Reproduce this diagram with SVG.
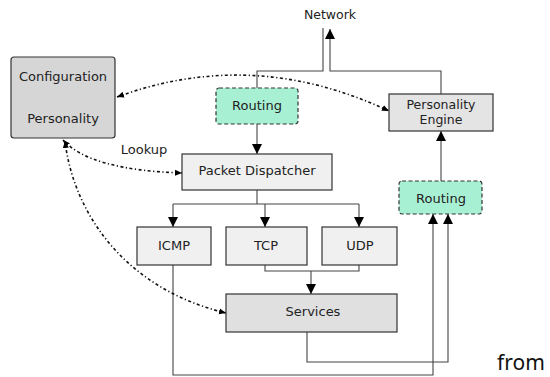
<svg xmlns="http://www.w3.org/2000/svg" width="550" height="377" viewBox="0 0 550 377">
<defs>
<style>
text{font-family:"DejaVu Sans",sans-serif;font-size:13px;fill:#222;text-anchor:middle}
.box{stroke:#333;stroke-width:1.2}
.route{fill:#a8f0d4;stroke:#333;stroke-width:1.2;stroke-dasharray:4 2.5}
.wire{fill:none;stroke:#444;stroke-width:1.1}
.dot{fill:none;stroke:#111;stroke-width:1.6;stroke-dasharray:3 2.5 1.2 2.5}
</style>
<marker id="ah" markerUnits="userSpaceOnUse" markerWidth="10" markerHeight="12" viewBox="0 0 10 12" refX="10" refY="6" orient="auto">
<path d="M0,1 L10,6 L0,11 Z" fill="#000"/>
</marker>
<marker id="dh" markerUnits="userSpaceOnUse" markerWidth="7" markerHeight="7" viewBox="0 0 7 7" refX="7" refY="3.5" orient="auto-start-reverse">
<path d="M0,0.5 L7,3.5 L0,6.5 Z" fill="#000"/>
</marker>
</defs>
<rect width="550" height="377" fill="#fff"/>

<g id="connectors">
<path class="wire" d="M441,94 V71 H330 V29" marker-end="url(#ah)"/>
<path class="wire" d="M323,28 V71 H257 V88"/>
<path class="wire" d="M257,124 V154" marker-end="url(#ah)"/>
<path class="wire" d="M257,190 V204 M173,204 H359"/>
<path class="wire" d="M173,204 V227" marker-end="url(#ah)"/>
<path class="wire" d="M265,204 V227" marker-end="url(#ah)"/>
<path class="wire" d="M359,204 V227" marker-end="url(#ah)"/>
<path class="wire" d="M265,265 V271 H359 V265"/>
<path class="wire" d="M311,271 V294" marker-end="url(#ah)"/>
<path class="wire" d="M307,332 V362 H448 V214" marker-end="url(#ah)"/>
<path class="wire" d="M173,265 V375 H433 V214" marker-end="url(#ah)"/>
<path class="wire" d="M441,181 V131" marker-end="url(#ah)"/>
<path class="dot" d="M117,97 Q253,47 389,111" marker-start="url(#dh)" marker-end="url(#dh)"/>
<path class="dot" d="M63,140 Q90,170 182,173" marker-start="url(#dh)" marker-end="url(#dh)"/>
<path class="dot" d="M65,141 C73,210 122,288 226,313" marker-start="url(#dh)" marker-end="url(#dh)"/>
<text x="144" y="154">Lookup</text>
<text x="330" y="19" style="font-size:12.5px">Network</text>
</g>

<g id="config">
<rect class="box" x="11" y="57" width="104" height="81" rx="3" fill="#d6d6d6"/>
<text x="63" y="81">Configuration</text>
<text x="63" y="123">Personality</text>
</g>
<g id="routing-in">
<rect class="route" x="216" y="88" width="82" height="36" rx="3"/>
<text x="257" y="110">Routing</text>
</g>
<g id="dispatcher">
<rect class="box" x="182" y="154" width="150" height="36" fill="#f0f0f0"/>
<text x="257" y="175">Packet Dispatcher</text>
</g>
<g id="engine">
<rect class="box" x="389" y="94" width="104" height="37" fill="#e4e4e4"/>
<text x="441" y="109" style="font-size:12.5px">Personality</text>
<text x="441" y="124" style="font-size:12.5px">Engine</text>
</g>
<g id="routing-out">
<rect class="route" x="399" y="181" width="83" height="33" rx="3"/>
<text x="441" y="203">Routing</text>
</g>
<g id="icmp">
<rect class="box" x="137" y="227" width="74" height="38" fill="#f0f0f0"/>
<text x="174" y="250">ICMP</text>
</g>
<g id="tcp">
<rect class="box" x="226" y="227" width="81" height="38" fill="#f0f0f0"/>
<text x="266" y="250">TCP</text>
</g>
<g id="udp">
<rect class="box" x="322" y="227" width="75" height="38" fill="#f0f0f0"/>
<text x="360" y="250">UDP</text>
</g>
<g id="services">
<rect class="box" x="226" y="294" width="171" height="38" fill="#e0e0e0"/>
<text x="313" y="316">Services</text>
</g>
<text x="521" y="370" style="font-size:21px;font-family:'Noto Sans',sans-serif;fill:#111">from</text>
</svg>
